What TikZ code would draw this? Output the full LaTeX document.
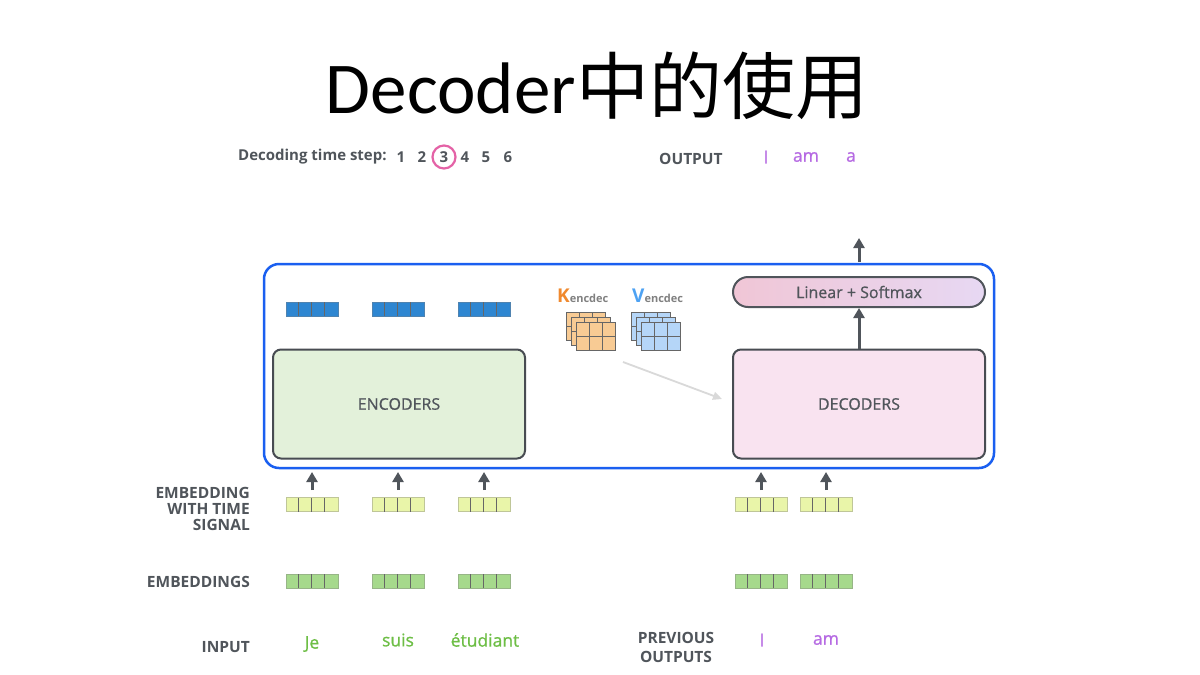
\documentclass[tikz,border=0pt]{standalone}
\usepackage{fontspec}
\setmainfont{Open Sans}
\newfontfamily\medf{Open Sans}[FakeBold=0.8]
\newfontfamily\titlefont{Carlito}
\newfontfamily\cjk{Noto Sans CJK SC}
\usetikzlibrary{arrows.meta,calc}
\definecolor{lblgray}{HTML}{50555B}
\definecolor{boxblue}{HTML}{1A5FF0}
\definecolor{darkblue}{HTML}{2E86D1}
\definecolor{yelfill}{HTML}{E9F5A9}
\definecolor{grnfill}{HTML}{A6D98C}
\definecolor{wordgreen}{HTML}{6DBE45}
\definecolor{wordpurple}{HTML}{B66AE3}
\definecolor{encfill}{HTML}{E3F1DA}
\definecolor{decfill}{HTML}{F9E3F0}
\definecolor{kfill}{HTML}{F8CB94}
\definecolor{vfill}{HTML}{B5D6F8}
\definecolor{korange}{HTML}{F0892E}
\definecolor{vblue}{HTML}{4DA2F3}
\definecolor{pinkc}{HTML}{E462A6}
\definecolor{linL}{HTML}{F0C6D6}
\definecolor{linR}{HTML}{E7D8F3}
\tikzset{
  lbl/.style={font=\fontsize{15.5}{18}\selectfont\bfseries, text=lblgray},
  vecbox/.style={draw=#1!60!gray, line width=1pt, minimum width=52pt, minimum height=14pt, inner sep=0pt},
  uparrow/.style={-{Triangle[length=10pt,width=11pt]}, line width=3pt, draw=lblgray},
  bigbox/.style={draw=lblgray!90!black, line width=2pt, rounded corners=8pt, minimum width=252pt, minimum height=109pt},
  word/.style={font=\fontsize{17.5}{20}\selectfont\medf},
  boxtext/.style={font=\fontsize{16}{19}\selectfont\medf, text=lblgray},
}
\newcommand\cellsof[1]{\foreach \k in {1,2,3}{\draw[draw=gray!80!black, line width=0.8pt] ($(#1.west)+(13*\k,-7)$) -- ($(#1.west)+(13*\k,7)$);}}
\newcommand\gridat[3]{% x y colour
  \draw[draw=gray!80!black, fill=#3, line width=0.8pt] (#1,#2) rectangle ++(39,28);
  \draw[draw=gray!80!black, line width=0.8pt] (#1+13,#2) -- ++(0,28) (#1+26,#2) -- ++(0,28) (#1,#2+14) -- ++(39,0);}
\begin{document}
\begin{tikzpicture}[x=1pt,y=-1pt]
\useasboundingbox[fill=white] (0,0) rectangle (1200,675);
% title
\node (title) at (597,86) {\fontsize{73}{84}\selectfont\titlefont Decoder\cjk 中的使用};
% time step
\node[anchor=west, font=\fontsize{15}{18}\selectfont\bfseries, text=lblgray, inner sep=0pt] (ts) at (238,157) {Decoding time step:};
\foreach \n/\x in {1/401,2/422,3/444,4/465,5/486,6/508}{
  \node[font=\fontsize{15}{18}\selectfont\bfseries, text=lblgray, inner sep=0pt] (t\n) at (\x,157) {\n};
}
\draw[pinkc, line width=2.2pt] (t3) circle (11.5pt);
% output
\node[lbl, anchor=west, inner sep=0pt] (outlbl) at (659,159) {OUTPUT};
\node[word, text=wordpurple] (o1) at (766,157) {I};
\node[word, text=wordpurple] (o2) at (806,157) {am};
\node[word, text=wordpurple] (o3) at (851,157) {a};
% big blue box
\node[draw=boxblue, line width=2.5pt, rounded corners=15pt, minimum width=730pt, minimum height=204pt] (stack) at (629,366) {};
% blue encoder output bars
\foreach \i/\x in {1/312,2/398,3/484}{
  \node[vecbox=darkblue, fill=darkblue] (b\i) at (\x,309) {};
  \cellsof{b\i}
}
% encoders
\node[bigbox, fill=encfill, boxtext] (enc) at (399,404) {ENCODERS};
\node[bigbox, fill=decfill, boxtext] (dec) at (859,404) {DECODERS};
% linear softmax
\node[draw=lblgray, line width=2pt, rounded corners=15pt, minimum width=252pt, minimum height=30pt, left color=linL, right color=linR, boxtext] (lin) at (859,292) {Linear + Softmax};
\draw[uparrow] (dec.north) -- (lin.south);
\coordinate (outtop) at (859,238);
\draw[uparrow] (859,262) -- (outtop);
% K V labels
\node[anchor=base west, inner sep=0pt] (klbl) at (557,302) {\fontsize{19}{20}\selectfont\bfseries\color{korange}K\fontsize{11}{12}\selectfont\color{gray}encdec};
\node[anchor=base west, inner sep=0pt] (vlbl) at (632,302) {\fontsize{19}{20}\selectfont\bfseries\color{vblue}V\fontsize{11}{12}\selectfont\color{gray}encdec};
% K matrices
\gridat{566}{312}{kfill}
\gridat{571}{317}{kfill}
\gridat{576}{322}{kfill}
\gridat{631}{312}{vfill}
\gridat{636}{317}{vfill}
\gridat{641}{322}{vfill}
\coordinate (kvout) at (623,362);
\coordinate (kvend) at (722,399);
\draw[-{Triangle[length=9pt,width=8pt]}, line width=1.8pt, draw=gray!30] (kvout) -- (kvend);
% embeddings
\foreach \i/\x in {1/312,2/398,3/484,4/761,5/826}{
  \node[vecbox=yelfill, fill=yelfill] (y\i) at (\x,504.5) {};
  \cellsof{y\i}
  \node[vecbox=grnfill, fill=grnfill] (g\i) at (\x,581) {};
  \cellsof{g\i}
  \coordinate (top\i) at (\x,472);
  \draw[uparrow] ($(y\i.north)+(0,-7)$) -- (top\i);
}
% labels
\node[lbl, anchor=east, align=right, inner sep=0pt] (ewts) at (250,509) {EMBEDDING\\[-2pt]WITH TIME\\[-2pt]SIGNAL};
\node[lbl, anchor=east, inner sep=0pt] (embl) at (250,582) {EMBEDDINGS};
\node[lbl, anchor=east, inner sep=0pt] (inl) at (250,647) {INPUT};
\node[lbl, align=center, inner sep=0pt] (prev) at (676,647) {PREVIOUS\\[1pt]OUTPUTS};
\node[word, text=wordgreen] (w1) at (312,644) {Je};
\node[word, text=wordgreen] (w2) at (398,640) {suis};
\node[word, text=wordgreen] (w3) at (485,640) {étudiant};
\node[word, text=wordpurple] (p1) at (762,640) {I};
\node[word, text=wordpurple] (p2) at (826,640) {am};
\end{tikzpicture}
\end{document}
